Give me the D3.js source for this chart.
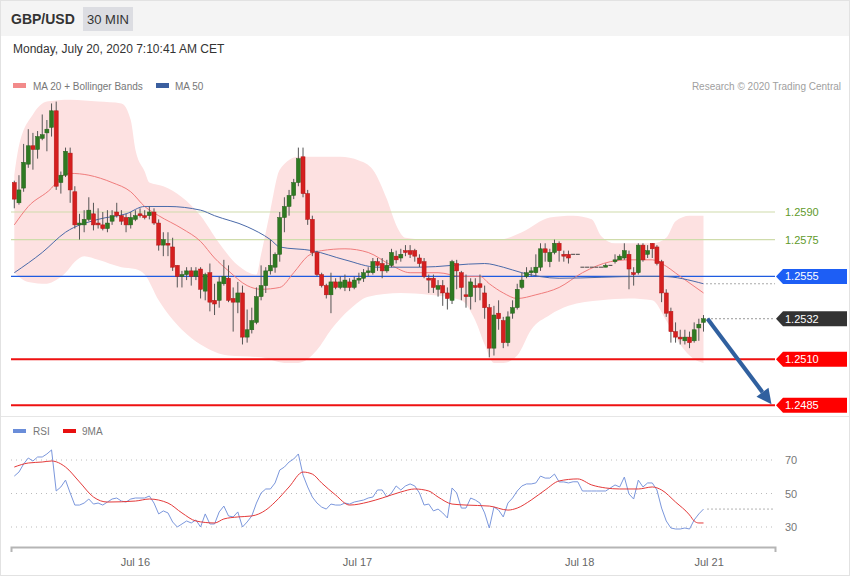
<!DOCTYPE html>
<html><head><meta charset="utf-8">
<script src="https://cdn.jsdelivr.net/npm/d3@7"></script>
<style>body{margin:0;background:#fff;}svg{display:block;font-family:"Liberation Sans",Arial,sans-serif;}</style>
</head><body><svg id="c" width="850" height="576"></svg>
<script>
const open = [
1.2606,1.2595,1.2603,1.2616,1.2626,1.2624,1.2630,1.2633,1.2636,1.2645,
1.2606,1.2610,1.2622,1.2601,1.2583,1.2583,1.2586,1.2589,1.2584,1.2583,
1.2581,1.2585,1.2590,1.2588,1.2587,1.2583,1.2586,1.2589,1.2588,1.2588,
1.2590,1.2584,1.2572,1.2573,1.2571,1.2561,1.2555,1.2556,1.2558,1.2555,
1.2559,1.2547,1.2557,1.2542,1.2542,1.2551,1.2554,1.2543,1.2541,1.2546,
1.2522,1.2526,1.2530,1.2544,1.2550,1.2558,1.2560,1.2567,1.2587,1.2593,
1.2599,1.2606,1.2620,1.2600,1.2586,1.2568,1.2556,1.2550,1.2545,1.2552,
1.2549,1.2549,1.2552,1.2549,1.2553,1.2554,1.2557,1.2557,1.2563,1.2562,
1.2558,1.2561,1.2566,1.2565,1.2569,1.2569,1.2569,1.2565,1.2563,1.2554,
1.2554,1.2548,1.2550,1.2546,1.2542,1.2562,1.2557,1.2545,1.2544,1.2550,
1.2551,1.2546,1.2538,1.2516,1.2535,1.2531,1.2519,1.2535,1.2538,1.2549,
1.2555,1.2557,1.2557,1.2560,1.2570,1.2563,1.2568,1.2573,1.2567,1.2567,
1.2567,1.2567,1.2560,1.2560,1.2560,1.2560,1.2560,1.2560,1.2561,1.2563,
1.2564,1.2565,1.2567,1.2557,1.2557,1.2572,1.2567,1.2573,1.2571,1.2563,
1.2546,1.2536,1.2525,1.2522,1.2520,1.2522,1.2520,1.2527,1.2530];
const high = [
1.2607,1.2610,1.2627,1.2635,1.2633,1.2634,1.2643,1.2640,1.2649,1.2650,
1.2612,1.2625,1.2625,1.2604,1.2589,1.2591,1.2598,1.2595,1.2592,1.2590,
1.2591,1.2591,1.2595,1.2591,1.2589,1.2590,1.2591,1.2592,1.2591,1.2593,
1.2592,1.2586,1.2579,1.2579,1.2576,1.2561,1.2558,1.2560,1.2560,1.2560,
1.2560,1.2557,1.2562,1.2551,1.2555,1.2564,1.2561,1.2549,1.2552,1.2550,
1.2537,1.2538,1.2549,1.2561,1.2560,1.2575,1.2568,1.2590,1.2598,1.2602,
1.2608,1.2625,1.2625,1.2602,1.2588,1.2569,1.2557,1.2551,1.2557,1.2554,
1.2555,1.2556,1.2554,1.2555,1.2557,1.2559,1.2560,1.2565,1.2565,1.2565,
1.2564,1.2570,1.2569,1.2570,1.2572,1.2572,1.2570,1.2567,1.2565,1.2556,
1.2556,1.2553,1.2553,1.2549,1.2564,1.2564,1.2558,1.2556,1.2554,1.2554,
1.2556,1.2550,1.2540,1.2539,1.2542,1.2533,1.2536,1.2542,1.2551,1.2557,
1.2560,1.2560,1.2567,1.2573,1.2573,1.2570,1.2575,1.2574,1.2569,1.2569,
1.2567,1.2567,1.2560,1.2560,1.2560,1.2560,1.2560,1.2562,1.2561,1.2567,
1.2567,1.2573,1.2569,1.2560,1.2573,1.2573,1.2572,1.2573,1.2572,1.2564,
1.2548,1.2538,1.2530,1.2526,1.2526,1.2525,1.2530,1.2532,1.2534];
const low = [
1.2592,1.2594,1.2601,1.2614,1.2613,1.2619,1.2629,1.2623,1.2631,1.2602,
1.2600,1.2609,1.2595,1.2581,1.2575,1.2579,1.2585,1.2580,1.2581,1.2580,
1.2579,1.2583,1.2587,1.2583,1.2579,1.2581,1.2585,1.2587,1.2586,1.2586,
1.2583,1.2569,1.2566,1.2566,1.2558,1.2549,1.2549,1.2553,1.2550,1.2553,
1.2543,1.2542,1.2536,1.2534,1.2538,1.2550,1.2541,1.2525,1.2535,1.2518,
1.2519,1.2524,1.2529,1.2542,1.2546,1.2556,1.2557,1.2563,1.2579,1.2588,
1.2597,1.2604,1.2598,1.2583,1.2566,1.2555,1.2549,1.2543,1.2535,1.2548,
1.2548,1.2547,1.2547,1.2548,1.2551,1.2552,1.2555,1.2556,1.2558,1.2554,
1.2557,1.2560,1.2562,1.2563,1.2566,1.2565,1.2563,1.2560,1.2554,1.2546,
1.2546,1.2544,1.2539,1.2537,1.2540,1.2548,1.2542,1.2538,1.2537,1.2541,
1.2542,1.2532,1.2511,1.2512,1.2526,1.2516,1.2517,1.2532,1.2537,1.2548,
1.2554,1.2555,1.2555,1.2558,1.2563,1.2560,1.2567,1.2563,1.2563,1.2562,
1.2567,1.2567,1.2560,1.2560,1.2560,1.2560,1.2560,1.2560,1.2561,1.2562,
1.2564,1.2564,1.2548,1.2550,1.2556,1.2563,1.2565,1.2565,1.2561,1.2541,
1.2533,1.2519,1.2519,1.2518,1.2518,1.2516,1.2519,1.2520,1.2525];
const close = [
1.2597,1.2602,1.2617,1.2626,1.2624,1.2631,1.2632,1.2635,1.2645,1.2604,
1.2610,1.2623,1.2602,1.2583,1.2584,1.2586,1.2591,1.2583,1.2583,1.2581,
1.2584,1.2588,1.2588,1.2585,1.2583,1.2587,1.2588,1.2588,1.2587,1.2590,
1.2584,1.2572,1.2575,1.2572,1.2560,1.2555,1.2556,1.2558,1.2555,1.2558,
1.2548,1.2556,1.2541,1.2540,1.2552,1.2555,1.2542,1.2541,1.2546,1.2522,
1.2526,1.2531,1.2544,1.2550,1.2558,1.2561,1.2567,1.2587,1.2593,1.2599,
1.2606,1.2619,1.2600,1.2586,1.2568,1.2556,1.2550,1.2545,1.2552,1.2549,
1.2552,1.2553,1.2549,1.2553,1.2554,1.2557,1.2558,1.2563,1.2561,1.2558,
1.2561,1.2568,1.2564,1.2567,1.2568,1.2567,1.2566,1.2562,1.2555,1.2553,
1.2549,1.2550,1.2546,1.2543,1.2563,1.2558,1.2549,1.2544,1.2552,1.2549,
1.2549,1.2538,1.2516,1.2534,1.2532,1.2519,1.2533,1.2538,1.2548,1.2553,
1.2557,1.2558,1.2560,1.2570,1.2568,1.2568,1.2573,1.2569,1.2566,1.2565,
1.2567,1.2567,1.2560,1.2560,1.2560,1.2560,1.2560,1.2561,1.2561,1.2564,
1.2566,1.2569,1.2559,1.2556,1.2572,1.2564,1.2569,1.2570,1.2562,1.2546,
1.2535,1.2525,1.2522,1.2521,1.2522,1.2519,1.2526,1.2529,1.2532];

const ma20Idx = [0,3,8,10,12,16,21,25,28,31,36,40,43,46,50,53,57,60,63,66,71,76,81,85,91,96,100,102,105,108,112,117,122,128,132,137,139,143,148];
const ma20Val = [1.2583,1.2593,1.2603,1.2609,1.2611,1.2610,1.2606,1.2601,1.2593,1.2588,1.2581,1.2574,1.2565,1.2558,1.2550,1.2548,1.2549,1.2557,1.2566,1.2569,1.2570,1.2568,1.2561,1.2557,1.2557,1.2555,1.2555,1.2551,1.2546,1.2543,1.2545,1.2549,1.2557,1.2563,1.2564,1.2564,1.2562,1.2555,1.2546];
const ma50Idx = [0,6,11,18,24,28,33,40,43,50,55,57,64,71,78,87,101,105,109,117,135,139,148];
const ma50Val = [1.2557,1.2568,1.2579,1.2586,1.2589,1.2593,1.2593,1.2591,1.2588,1.2582,1.2575,1.2571,1.2569,1.2564,1.2560,1.2560,1.2562,1.2560,1.2557,1.2554,1.2555,1.2555,1.2551];
const bbUpIdx = [0,1,4,7,12,18,23,25,26,28,29,32,36,40,44,48,52,53,55,57,61,70,74,77,80,82,84,89,100,104,109,115,120,124,126,129,137,140,142,145,148];
const bbUpVal = [1.2610,1.2626,1.2643,1.2650,1.2651,1.2650,1.2649,1.2640,1.2624,1.2612,1.2606,1.2604,1.2598,1.2588,1.2573,1.2561,1.2556,1.2567,1.2591,1.2613,1.2620,1.2620,1.2618,1.2613,1.2597,1.2583,1.2576,1.2575,1.2575,1.2575,1.2579,1.2587,1.2588,1.2586,1.2577,1.2573,1.2573,1.2576,1.2585,1.2588,1.2588];
const bbLoIdx = [0,3,7,9,11,13,15,18,23,26,28,31,36,40,46,53,58,61,65,68,72,76,83,89,96,99,101,103,105,108,111,115,119,126,132,137,140,143,146,148];
const bbLoVal = [1.2557,1.2552,1.2551,1.2553,1.2557,1.2563,1.2566,1.2564,1.2560,1.2559,1.2556,1.2542,1.2526,1.2518,1.2512,1.2511,1.2508,1.2508,1.2515,1.2526,1.2537,1.2544,1.2546,1.2545,1.2542,1.2531,1.2518,1.2508,1.2508,1.2512,1.2526,1.2534,1.2539,1.2542,1.2543,1.2542,1.2531,1.2518,1.2510,1.2508];

const rsi = [
60.4,62.8,67.6,71.2,69.4,71.8,71.8,73.6,76,51.5,
53.9,58,50.3,43.1,43.1,44.3,46.7,43.7,44.3,43.1,
44.9,46.7,47.3,45.5,44.9,46.7,47.3,47.3,47.3,48.5,
44.3,37.8,39.6,38.4,33,30,31.8,33.6,32.4,34.2,
30,37.8,31.8,31.8,39,42.5,36.6,36,39,30,
33,36.6,44.3,50.3,52.7,52.7,56.3,64,65.8,68.8,
70.6,73.6,61,53.9,47.9,44.3,41.9,40.7,43.7,43.1,
43.1,44.3,43.7,44.9,45.5,46.1,47.3,47.9,52.1,52.1,
47.9,50.3,54.5,52.1,54.5,55.7,54.5,50.3,43.1,43.7,
39.6,40.7,38.4,35.4,53.3,50.3,41.3,41.3,47.3,46.1,
44.3,38.4,29.4,41.9,40.1,36,44.3,47.3,51.5,54.5,
55.7,55.7,56.3,60.4,59.2,59.2,61.6,56.9,56.9,56.3,
57,57,51.5,51.5,51.5,51.5,51.5,51.5,53.3,55.1,
53.9,59.8,49.7,46.7,58,53.9,56.3,56.3,52.1,41.3,
33.6,29.4,28.8,28.8,29.4,28.8,34.2,37.8,40.7];
const rsiMaIdx = [0,3,6,8,11,14,17,20,26,29,33,36,39,43,45,48,51,54,56,59,62,64,66,69,72,76,79,83,86,89,91,94,97,102,106,108,111,114,117,121,124,127,130,134,137,139,142,145,146,147,148];
const rsiMaVal = [65.8,68.2,68.8,69.4,65.8,56.9,47.9,44.9,45.5,46.7,44.3,38.4,33.6,32.4,34.8,36,36.6,40.1,44.9,53.9,62.8,61.6,56.3,49.1,43.1,44.9,47.3,50.9,52.7,51.5,47.9,43.7,43.1,42.5,40.1,41.3,46.1,52.1,57.5,58.7,55.1,53.3,52.7,52.7,53.9,52.1,44.9,37.2,33.6,32.4,32.4];

const levelValues = [1.2590, 1.2575, 1.2555, 1.2532, 1.2510, 1.2485];
const levelKinds = ['res', 'res', 'pivot', 'last', 'sup', 'sup'];
const rsiTicks = [70, 50, 30];
const dayLabels = ['Jul 16', 'Jul 17', 'Jul 18', 'Jul 21'];
const dayPos = [25.9, 73.6, 121.3, 149.1];
const targetPrice = 1.2485, targetPos = 162.6;

const W = 850, H = 576;
const svg = d3.select('#c');
const n = close.length;
const x = d3.scaleLinear().domain([0, n - 1]).range([14.3, 703.5]);
const y = d3.scaleLinear().domain([1.2485, 1.2590]).range([405.2, 212]);
const yr = d3.scaleLinear().domain([30, 70]).range([527, 460]);
const xL = 11, xR = 775;

// frame & header
svg.append('rect').attr('x', 0.5).attr('y', 0.5).attr('width', W - 1).attr('height', H - 1).attr('fill', '#fff').attr('stroke', '#e2e2e2');
svg.append('rect').attr('x', 1).attr('y', 1).attr('width', W - 2).attr('height', 35).attr('fill', '#f4f4f4');
svg.append('text').attr('x', 11).attr('y', 24).attr('font-size', 14).attr('font-weight', 'bold').attr('fill', '#333').text('GBP/USD');
svg.append('rect').attr('x', 83).attr('y', 7).attr('width', 50).attr('height', 24).attr('fill', '#dcdde2');
svg.append('text').attr('x', 108).attr('y', 24).attr('text-anchor', 'middle').attr('font-size', 13).attr('fill', '#333').text('30 MIN');
svg.append('text').attr('x', 13).attr('y', 53).attr('font-size', 12).attr('fill', '#333').text('Monday, July 20, 2020 7:10:41 AM CET');

// legend
svg.append('rect').attr('x', 13).attr('y', 83).attr('width', 13).attr('height', 5).attr('fill', '#f28a8a');
svg.append('text').attr('x', 33).attr('y', 90).attr('font-size', 10).attr('fill', '#777').text('MA 20 + Bollinger Bands');
svg.append('rect').attr('x', 156).attr('y', 83).attr('width', 13).attr('height', 5).attr('fill', '#3b5f9f');
svg.append('text').attr('x', 175).attr('y', 90).attr('font-size', 10).attr('fill', '#777').text('MA 50');
svg.append('text').attr('x', 841).attr('y', 90).attr('text-anchor', 'end').attr('font-size', 10).attr('fill', '#a0a0a0').text('Research \u00a9 2020 Trading Central');

// bollinger band
const up = bbUpIdx.map((d, i) => [x(d), y(bbUpVal[i])]);
const lo = bbLoIdx.map((d, i) => [x(d), y(bbLoVal[i])]).reverse();
const lineC = d3.line().curve(d3.curveMonotoneX);
const bandPath = lineC(up) + 'L' + lineC(lo).slice(1) + 'Z';
svg.append('path').attr('d', bandPath).attr('fill', '#fde1e1');

// level lines
const levelColor = {res: '#cfdcab', pivot: '#1f5be0', sup: '#ee1111'};
levelValues.forEach((v, i) => {
  const k = levelKinds[i];
  if (k === 'last') return;
  svg.append('line').attr('x1', xL).attr('x2', xR).attr('y1', y(v)).attr('y2', y(v))
    .attr('stroke', levelColor[k]).attr('stroke-width', k === 'sup' ? 2 : 1.2);
});

// MA lines
svg.append('path').attr('d', d3.line().curve(d3.curveMonotoneX)(ma20Idx.map((d, i) => [x(d), y(ma20Val[i])])))
  .attr('fill', 'none').attr('stroke', '#f07c7c').attr('stroke-width', 1);
svg.append('path').attr('d', d3.line().curve(d3.curveMonotoneX)(ma50Idx.map((d, i) => [x(d), y(ma50Val[i])])))
  .attr('fill', 'none').attr('stroke', '#4a6aa9').attr('stroke-width', 1);

// candles
const g = svg.append('g');
d3.range(n).forEach(i => {
  const o = open[i], c = close[i], h = high[i], l = low[i];
  const flat = (h === l);
  const cx = x(i);
  if (flat) {
    g.append('line').attr('x1', cx - 2).attr('x2', cx + 2).attr('y1', y(c)).attr('y2', y(c)).attr('stroke', '#444').attr('stroke-width', 1);
    return;
  }
  const upC = c >= o;
  g.append('line').attr('x1', cx).attr('x2', cx).attr('y1', y(h)).attr('y2', y(l)).attr('stroke', '#555').attr('stroke-width', 1);
  const top = y(Math.max(o, c)), bot = y(Math.min(o, c));
  g.append('rect').attr('x', cx - 2).attr('y', top).attr('width', 4).attr('height', Math.max(1.5, bot - top))
    .attr('fill', upC ? '#2f7a22' : '#d51f1f').attr('stroke', upC ? '#255f1b' : '#b01515').attr('stroke-width', 0.5);
});

// dotted extensions
const lastMa50 = ma50Val[ma50Val.length - 1];
svg.append('line').attr('x1', x(n - 1) + 3).attr('x2', xR).attr('y1', y(lastMa50)).attr('y2', y(lastMa50))
  .attr('stroke', '#555').attr('stroke-dasharray', '1,3');
svg.append('line').attr('x1', x(n - 1) + 4).attr('x2', xR).attr('y1', y(close[n - 1])).attr('y2', y(close[n - 1]))
  .attr('stroke', '#333').attr('stroke-dasharray', '1,3');

// labels
const labelFill = {pivot: '#1d5ef5', last: '#333333', sup: '#ff0000'};
levelValues.forEach((v, i) => {
  const k = levelKinds[i];
  const yy = y(v);
  if (k === 'res') {
    svg.append('text').attr('x', 785).attr('y', yy + 4).attr('font-size', 11).attr('fill', '#5f9a2b').text(v.toFixed(4));
  } else {
    svg.append('path').attr('d', `M776,${yy}L783,${yy - 7.5}H847V${yy + 7.5}H783Z`).attr('fill', labelFill[k]);
    svg.append('text').attr('x', 785).attr('y', yy + 4).attr('font-size', 11).attr('fill', '#fff').text(v.toFixed(4));
  }
});

// arrow
const ax0 = x(n - 1) + 4, ay0 = y(close[n - 1]);
const ax1 = x(targetPos), ay1 = y(targetPrice) - 1;
const ang = Math.atan2(ay1 - ay0, ax1 - ax0);
const headL = 15, headW = 7.5;
const bx = ax1 - headL * Math.cos(ang), by = ay1 - headL * Math.sin(ang);
svg.append('line').attr('x1', ax0).attr('y1', ay0).attr('x2', bx).attr('y2', by).attr('stroke', '#30609f').attr('stroke-width', 4);
svg.append('path').attr('d', `M${ax1},${ay1}L${bx + headW * Math.sin(ang)},${by - headW * Math.cos(ang)}L${bx - headW * Math.sin(ang)},${by + headW * Math.cos(ang)}Z`).attr('fill', '#30609f');

// panel separator
svg.append('line').attr('x1', 1).attr('x2', W - 1).attr('y1', 416.5).attr('y2', 416.5).attr('stroke', '#e6e6e6');

// RSI panel
svg.append('rect').attr('x', 13).attr('y', 429).attr('width', 13).attr('height', 4).attr('fill', '#6a8dd9');
svg.append('text').attr('x', 33).attr('y', 435).attr('font-size', 10).attr('fill', '#777').text('RSI');
svg.append('rect').attr('x', 63).attr('y', 429).attr('width', 13).attr('height', 4).attr('fill', '#e81010');
svg.append('text').attr('x', 82).attr('y', 435).attr('font-size', 10).attr('fill', '#777').text('9MA');

rsiTicks.forEach(t => {
  svg.append('line').attr('x1', xL).attr('x2', xR).attr('y1', yr(t)).attr('y2', yr(t))
    .attr('stroke', '#bbb').attr('stroke-dasharray', '1,4');
  svg.append('text').attr('x', 785).attr('y', yr(t) + 4).attr('font-size', 11).attr('fill', '#777').text(t);
});
svg.append('path').attr('d', d3.line()(rsi.map((v, i) => [x(i), yr(v)])))
  .attr('fill', 'none').attr('stroke', '#7b97dc').attr('stroke-width', 1);
svg.append('path').attr('d', d3.line().curve(d3.curveMonotoneX)(rsiMaIdx.map((d, i) => [x(d), yr(rsiMaVal[i])])))
  .attr('fill', 'none').attr('stroke', '#e43a3a').attr('stroke-width', 1);
svg.append('line').attr('x1', x(n - 1) + 4).attr('x2', xR).attr('y1', yr(rsi[n - 1])).attr('y2', yr(rsi[n - 1]))
  .attr('stroke', '#666').attr('stroke-dasharray', '1,3');

// x axis
const xa = d3.scaleLinear().domain([x.invert(xL), x.invert(xR)]).range([xL, xR]);
const axis = svg.append('g').attr('transform', 'translate(0,547)')
  .call(d3.axisBottom(xa).tickValues(dayPos).tickFormat((d, i) => dayLabels[i]).tickSizeInner(0).tickSizeOuter(5).tickPadding(11));
axis.select('.domain').attr('stroke', '#b5b5b5').attr('stroke-width', 2);
axis.selectAll('text').attr('font-size', 11).attr('fill', '#666').attr('font-family', '"Liberation Sans",Arial,sans-serif');
</script></body></html>
